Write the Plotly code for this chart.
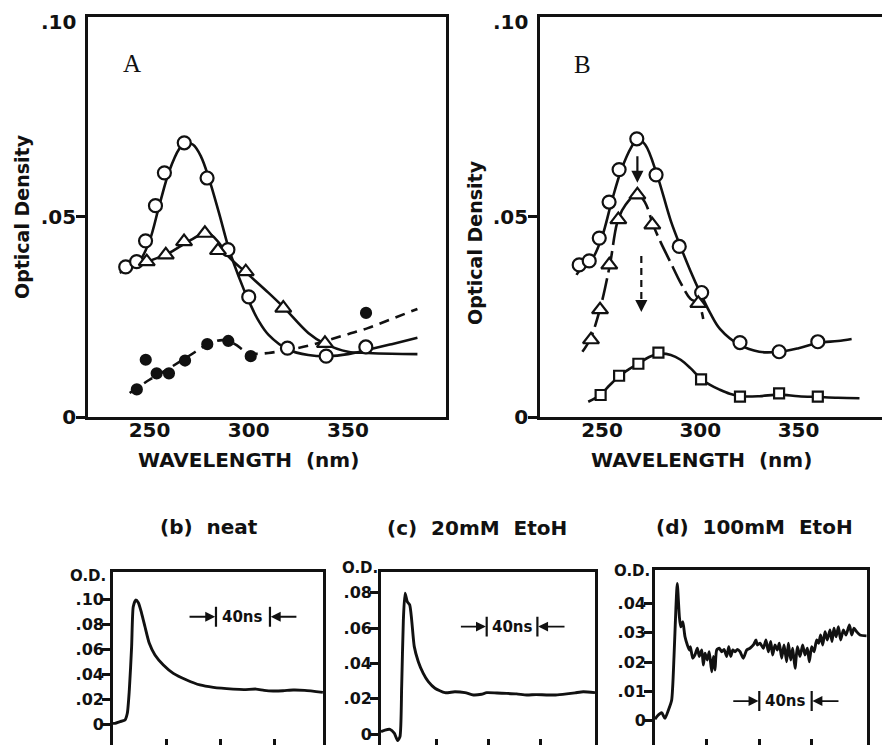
import plotly.graph_objects as go

# ---------------- Panel A (spectra) ----------------
A_circ_x = [238, 243.5, 248, 253, 257.5, 267.5, 279, 289.5, 300, 319.5, 339, 359]
A_circ_y = [0.0375, 0.0388, 0.044, 0.0528, 0.061, 0.0685, 0.0597, 0.0418, 0.030, 0.0172, 0.0152, 0.0175]
A_tri_x = [248.6, 258.2, 267.4, 277.9, 284.5, 298.5, 317.4, 338.4]
A_tri_y = [0.0388, 0.0405, 0.0438, 0.0459, 0.0416, 0.0363, 0.0272, 0.0184]
A_dot_x = [243.6, 248.1, 253.6, 259.8, 267.9, 279.1, 289.7, 301, 359.1]
A_dot_y = [0.0069, 0.0143, 0.0109, 0.0109, 0.0141, 0.0182, 0.019, 0.0152, 0.026]

# hand-drawn fit curves of panel A
A_circ_fit_x = [235, 240, 245, 250, 255, 260, 265, 268, 272, 276, 280, 285, 290, 295, 300, 305, 310, 320, 330, 340, 350, 360, 372, 385]
A_circ_fit_y = [0.036, 0.0375, 0.039, 0.044, 0.053, 0.0615, 0.067, 0.0685, 0.068, 0.065, 0.0595, 0.051, 0.042, 0.035, 0.029, 0.024, 0.0205, 0.0168, 0.0155, 0.0152, 0.0157, 0.0168, 0.0182, 0.0198]
A_tri_fit_x = [246, 250, 258, 265, 270, 277, 281, 285, 290, 300, 310, 318, 330, 338, 350, 360, 372, 385]
A_tri_fit_y = [0.038, 0.039, 0.0405, 0.0425, 0.044, 0.0457, 0.0455, 0.0435, 0.040, 0.0355, 0.031, 0.0272, 0.021, 0.0184, 0.0163, 0.016, 0.0158, 0.0157]
A_dot_fit_x = [240, 250, 260, 270, 280, 287, 293, 298, 303, 310, 320, 330, 340, 350, 360, 372, 385]
A_dot_fit_y = [0.006, 0.0093, 0.0122, 0.0153, 0.0183, 0.0192, 0.0182, 0.0165, 0.0158, 0.016, 0.0168, 0.0178, 0.0192, 0.0207, 0.0222, 0.0245, 0.027]

# ---------------- Panel B (spectra) ----------------
B_circ_x = [238.4, 243.5, 248.6, 253.6, 258.7, 267.7, 277.5, 289.3, 300.7, 320.2, 340.1, 359.8]
B_circ_y = [0.038, 0.039, 0.0447, 0.0537, 0.0618, 0.0695, 0.0605, 0.0426, 0.0311, 0.0186, 0.0163, 0.0188]
B_tri_x = [244.4, 249, 253.7, 258.3, 268, 275.6, 299]
B_tri_y = [0.0193, 0.0268, 0.038, 0.0493, 0.0555, 0.048, 0.0284]
B_sq_x = [249.3, 258.7, 268.5, 278.7, 300.4, 320.2, 340.1, 359.8]
B_sq_y = [0.0055, 0.0103, 0.0133, 0.0161, 0.0094, 0.0051, 0.0059, 0.0051]

B_circ_fit_x = [237, 240, 245, 250, 255, 260, 265, 268, 272, 278, 285, 290, 295, 300, 305, 310, 320, 330, 340, 350, 360, 370, 377]
B_circ_fit_y = [0.0355, 0.0375, 0.0395, 0.045, 0.054, 0.062, 0.0675, 0.0695, 0.068, 0.0605, 0.049, 0.0425, 0.0365, 0.031, 0.026, 0.022, 0.018, 0.0163, 0.0163, 0.0172, 0.0185, 0.019, 0.0195]
B_tri_fit_x = [240, 244, 249, 254, 258, 262, 268, 272, 276, 280, 285, 290, 295, 299, 301.5]
B_tri_fit_y = [0.0163, 0.0195, 0.027, 0.038, 0.049, 0.053, 0.0557, 0.0535, 0.048, 0.0435, 0.0385, 0.0335, 0.0295, 0.0284, 0.0245]
B_sq_fit_x = [243, 249, 254, 259, 264, 269, 274, 279, 285, 290, 295, 300, 305, 310, 315, 320, 330, 340, 350, 360, 370, 381]
B_sq_fit_y = [0.0038, 0.0055, 0.008, 0.0103, 0.012, 0.0135, 0.015, 0.0158, 0.0155, 0.0143, 0.0122, 0.0097, 0.008, 0.0068, 0.0058, 0.0052, 0.0052, 0.0056, 0.0052, 0.005, 0.0048, 0.0047]

SPEC_TICKS = [0, 0.05]
SPEC_TICK_TEXT = ["0", ".05"]
SPEC_TOP_LABEL = ".10"
WL_TICKS = [250, 300, 350]

# ---------------- Transients (time in ns, O.D.) ----------------
b_t = [0, 1.5, 5.2, 8.9, 10.6, 12.1, 13.8, 15, 16.8, 18.8, 21.2, 23.7, 26.9, 31.1, 37.3, 44.7, 54.6, 64.4, 74.3, 89, 97, 106, 112, 118.7, 126, 133.5, 142, 155.5]
b_od = [0.0005, 0.0005, 0.0019, 0.0032, 0.0086, 0.0273, 0.062, 0.094, 0.0994, 0.0973, 0.0888, 0.078, 0.0647, 0.0553, 0.0473, 0.0406, 0.0353, 0.0313, 0.0294, 0.028, 0.0276, 0.028, 0.027, 0.0265, 0.0267, 0.0273, 0.027, 0.0254]

c_t = [-2.3, 0.8, 4.6, 7.9, 10.5, 12.3, 13.6, 14.9, 16.2, 17.9, 19.8, 21.3, 23.3, 26.4, 30.2, 34.1, 39.2, 46.9, 54.6, 62.3, 68.7, 75, 79, 87, 94.4, 102, 109.8, 117, 125, 132, 140.5, 147, 153.3, 162.3]
c_od = [0.0015, 0.0024, 0.0028, 0.0006, -0.0036, -0.0013, 0.0269, 0.0645, 0.0796, 0.0749, 0.073, 0.0645, 0.0495, 0.041, 0.0344, 0.0297, 0.026, 0.0235, 0.024, 0.0235, 0.0222, 0.0226, 0.0235, 0.0233, 0.0231, 0.0228, 0.0222, 0.0224, 0.0222, 0.0222, 0.0228, 0.0234, 0.024, 0.0235]

d_t = [0.6, 2.4, 5.7, 8.2, 10.8, 13.3, 15.1, 16.6, 17.6, 19.2, 20.2, 21.8, 23.5, 25.3, 26.8, 27.6, 29.4, 31.1, 32.9, 34.4,
       36.3, 37.5, 38.8, 40.5, 42, 43.9, 45.2, 46.4, 47.7, 49.7, 51.5, 53.3, 55.3, 56.9, 58.4, 60, 61.7, 63.5, 65.5, 68,
       70.6, 73.1, 75.7, 77.7, 78.7, 80.8, 83.3, 85.3, 87.1, 88.9, 90.4, 92.2, 94, 95.5, 97.3, 99.1, 101.1, 102.4, 104.2, 105.7,
       107.5, 109.3, 111.3, 113.3, 115.1, 116.9, 118.4, 120.2, 122, 124, 125.5, 127, 128.6, 130.4, 132.1, 134.2, 135.7, 137.2, 138.8, 140.6,
       142.3, 144.4, 146.4, 149, 150.8, 152.5, 154.6, 157.1, 162.2]
d_od = [0.0005, 0.0016, 0.0027, 0.0008, 0.0036, 0.007, 0.0218, 0.0388, 0.0468, 0.0354, 0.032, 0.0337, 0.0286, 0.0258, 0.0241, 0.0252, 0.0213, 0.0224, 0.0247, 0.0219,
        0.0241, 0.019, 0.023, 0.0207, 0.0235, 0.0167, 0.0219, 0.0173, 0.0241, 0.0247, 0.0235, 0.0243, 0.0219, 0.0252, 0.0219, 0.0241, 0.0235, 0.0243, 0.0235, 0.0213,
        0.0241, 0.0247, 0.0258, 0.0275, 0.0258, 0.0264, 0.0247, 0.0275, 0.0235, 0.027, 0.0224, 0.0258, 0.0241, 0.0264, 0.0213, 0.0258, 0.0201, 0.0264, 0.0207, 0.0247,
        0.0179, 0.0252, 0.0219, 0.0258, 0.0224, 0.0247, 0.0201, 0.0252, 0.0235, 0.0275, 0.0264, 0.0292, 0.0258, 0.0303, 0.0275, 0.0309, 0.027, 0.0315, 0.0286, 0.032,
        0.0275, 0.0309, 0.0292, 0.0326, 0.0292, 0.0315, 0.0303, 0.0292, 0.0289]

INK = "#111111"
SANS = "DejaVu Sans"
W, H = 890, 745
OX, OY = 8, 8  # page offset of the plot div (body margin)


def fx(px):  # screen pixel -> paper x
    return (px - OX) / W


def fy(py):  # screen pixel -> paper y
    return (H - (py - OY)) / H


fig = go.Figure()


def curve(x, y, ax, dash="solid", width=2.6):
    fig.add_trace(go.Scatter(x=x, y=y, mode="lines", xaxis=ax[0], yaxis=ax[1],
                             line=dict(color=INK, width=width, dash=dash, shape="spline", smoothing=1.0),
                             hoverinfo="skip", showlegend=False))


def marks(x, y, ax, symbol, size, filled=False):
    fig.add_trace(go.Scatter(x=x, y=y, mode="markers", xaxis=ax[0], yaxis=ax[1],
                             marker=dict(symbol=symbol, size=size, color=INK if filled else "white",
                                         line=dict(color=INK, width=2.2)),
                             showlegend=False))


# Panel A
curve(A_circ_fit_x, A_circ_fit_y, ("x", "y"))
curve(A_tri_fit_x, A_tri_fit_y, ("x", "y"))
curve(A_dot_fit_x, A_dot_fit_y, ("x", "y"), dash="10px,7px")
marks(A_circ_x, A_circ_y, ("x", "y"), "circle", 13)
marks(A_tri_x, A_tri_y, ("x", "y"), "triangle-up", 14)
marks(A_dot_x, A_dot_y, ("x", "y"), "circle", 10, filled=True)

# Panel B
curve(B_circ_fit_x, B_circ_fit_y, ("x2", "y2"))
curve(B_tri_fit_x, B_tri_fit_y, ("x2", "y2"), dash="22px,6px")
curve(B_sq_fit_x, B_sq_fit_y, ("x2", "y2"))
marks(B_circ_x, B_circ_y, ("x2", "y2"), "circle", 13)
marks(B_tri_x, B_tri_y, ("x2", "y2"), "triangle-up", 14)
marks(B_sq_x, B_sq_y, ("x2", "y2"), "square", 10)

# Transients
for t, od, ax in [(b_t, b_od, ("x3", "y3")), (c_t, c_od, ("x4", "y4")), (d_t, d_od, ("x5", "y5"))]:
    fig.add_trace(go.Scatter(x=t, y=od, mode="lines", xaxis=ax[0], yaxis=ax[1],
                             line=dict(color=INK, width=2.9, shape="spline", smoothing=0.6),
                             hoverinfo="skip", showlegend=False))

big_tick = dict(family=SANS, size=20, color=INK, weight="bold")
small_tick = dict(family=SANS, size=16, color=INK, weight="bold")

common = dict(showgrid=False, zeroline=False, linecolor=INK, tickcolor=INK, automargin=False)

# spectra panels: screen pixel boxes
A_box = dict(l=88, r=446, t=16.7, b=417)
B_box = dict(l=540, r=898, t=16.7, b=417)

layout = dict(
    width=W, height=H, margin=dict(l=0, r=0, t=0, b=0, pad=0), autosize=False,
    paper_bgcolor="white", plot_bgcolor="white", showlegend=False,
    # Panel A
    xaxis=dict(domain=[fx(A_box["l"]), fx(A_box["r"])], range=[219.0, 399.4], showline=True, linewidth=2.8,
               mirror=True, tickvals=WL_TICKS, ticks="", ticklen=0, ticklabelstandoff=-7,
               tickfont=big_tick, **common),
    yaxis=dict(domain=[fy(A_box["b"]), fy(A_box["t"])], range=[0, 0.1], showline=True, linewidth=2.8, mirror=True,
               tickvals=SPEC_TICKS, ticktext=SPEC_TICK_TEXT, ticks="outside", ticklen=9, tickwidth=2.5,
               ticklabelstandoff=-4, tickfont=big_tick, **common),
    # Panel B
    xaxis2=dict(domain=[fx(B_box["l"]), fx(B_box["r"])], range=[218.45, 400.6], showline=True, linewidth=2.8,
                mirror=True, tickvals=WL_TICKS, ticks="", ticklen=0, ticklabelstandoff=-7,
                tickfont=big_tick, anchor="y2", **common),
    yaxis2=dict(domain=[fy(B_box["b"]), fy(B_box["t"])], range=[0, 0.1], showline=True, linewidth=2.8,
                tickvals=SPEC_TICKS, ticktext=SPEC_TICK_TEXT, ticks="outside", ticklen=9, tickwidth=2.5,
                ticklabelstandoff=-4, tickfont=big_tick, anchor="x2", **common),
)

# transient panels: screen-pixel boxes; the bottom edge lies just below the picture (screen y = 753)
bottom = {
    3: dict(xd=[113, 323], xr=[0, 155.6], yt=572, yr=[-0.02326, 0.1219],
            yv=[0, 0.02, 0.04, 0.06, 0.08, 0.10], yl=["0", ".02", ".04", ".06", ".08", ".10"]),
    4: dict(xd=[381, 595], xr=[-2.3, 162.3], yt=571.7, yr=[-0.01056, 0.0918],
            yv=[0, 0.02, 0.04, 0.06, 0.08], yl=["0", ".02", ".04", ".06", ".08"]),
    5: dict(xd=[655, 866.7], xr=[0.6, 162.2], yt=570, yr=[-0.0110, 0.05135],
            yv=[0, 0.01, 0.02, 0.03, 0.04], yl=["0", ".01", ".02", ".03", ".04"]),
}
shapes = []
for k, v in bottom.items():
    layout[f"xaxis{k}"] = dict(domain=[fx(v["xd"][0]), fx(v["xd"][1])], range=v["xr"], showline=True,
                               linewidth=2.8, mirror=True,
                               tickvals=[40, 80, 120], ticks="inside", ticklen=14, tickwidth=2.5,
                               showticklabels=False, anchor=f"y{k}", **common)
    layout[f"yaxis{k}"] = dict(domain=[0, fy(v["yt"])], range=v["yr"], showline=True, linewidth=2.8,
                               mirror=True, tickvals=v["yv"], ticktext=v["yl"], ticks="outside", ticklen=8,
                               tickwidth=2.5, ticklabelstandoff=-5, tickfont=small_tick, anchor=f"x{k}", **common)

annotations = []


def ptext(text, x, y, size, angle=0, xanchor="center", family=SANS, weight="bold"):
    annotations.append(dict(text=text, x=fx(x), y=fy(y), xref="paper", yref="paper", showarrow=False,
                            textangle=angle, xanchor=xanchor, yanchor="middle",
                            font=dict(family=family, size=size, color=INK, weight=weight)))


# top value label of the spectra axes (sits just under the top corner of the box)
ptext(SPEC_TOP_LABEL, 78, 22.5, 20, xanchor="right")
ptext(SPEC_TOP_LABEL, 530, 22.5, 20, xanchor="right")
# axis titles
ptext("Optical Density", 22, 217, 19, angle=-90)
ptext("Optical Density", 475, 243, 19, angle=-90)
ptext("WAVELENGTH\u00a0\u00a0(nm)", 248, 460, 20)
ptext("WAVELENGTH\u00a0\u00a0(nm)", 701, 460, 20)
# panel letters
ptext("A", 132, 63, 25, family="Liberation Serif", weight="normal")
ptext("B", 582, 65, 25, family="Liberation Serif", weight="normal")
# transient titles
ptext("(b)\u00a0\u00a0neat", 209, 527, 20)
ptext("(c)\u00a0\u00a020mM\u00a0\u00a0EtoH", 477, 528, 20)
ptext("(d)\u00a0\u00a0100mM\u00a0\u00a0EtoH", 754, 527, 20)
# O.D. labels
ptext("O.D.", 108, 576, 15, xanchor="right")
ptext("O.D.", 380, 568, 15, xanchor="right")
ptext("O.D.", 652, 571, 15, xanchor="right")


def arrow(ax, x, y, tx, ty, width=2.2):
    annotations.append(dict(text="", x=x, y=y, ax=tx, ay=ty, xref=ax[0], yref=ax[1], axref=ax[0], ayref=ax[1],
                            showarrow=True, arrowhead=2, arrowsize=1.1, arrowwidth=width, arrowcolor=INK))


# arrows in panel B
arrow(("x2", "y2"), 268, 0.0585, 268, 0.0655)
shapes.append(dict(type="line", xref="x2", yref="y2", x0=270, x1=270, y0=0.0402, y1=0.0285,
                   line=dict(color=INK, width=2.2, dash="7px,5px")))
arrow(("x2", "y2"), 270, 0.0262, 270, 0.0292)


# 40 ns scale bars
def scalebar(k, left, right, y, half, left_tail, right_tail):
    xa, ya = f"x{k}", f"y{k}"
    for xv in (left, right):
        shapes.append(dict(type="line", xref=xa, yref=ya, x0=xv, x1=xv, y0=y - half, y1=y + half,
                           line=dict(color=INK, width=2.2)))
    arrow((xa, ya), left - 0.6, y, left_tail, y, width=1.8)
    arrow((xa, ya), right + 0.6, y, right_tail, y, width=1.8)
    annotations.append(dict(text="40ns", x=(left + right) / 2, y=y, xref=xa, yref=ya, showarrow=False,
                            font=dict(family=SANS, size=15, color=INK, weight="bold")))


scalebar(3, 76.3, 116.3, 0.086, 0.008, 55.6, 137)
scalebar(4, 79, 118, 0.0608, 0.0056, 58, 140)
scalebar(5, 80.2, 120.2, 0.0067, 0.0034, 59.2, 141.8)

layout["shapes"] = shapes
layout["annotations"] = annotations
fig.update_layout(**layout)
fig.write_html("out.html")
